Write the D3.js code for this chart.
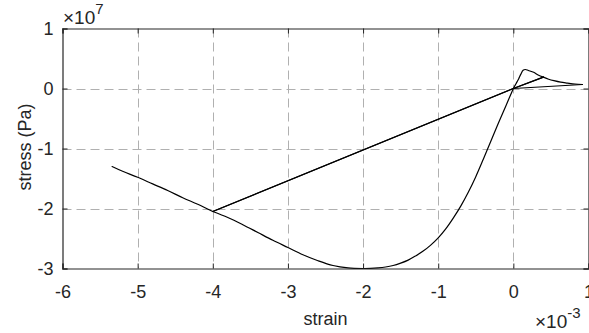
<!DOCTYPE html>
<html>
<head>
<meta charset="utf-8">
<script src="https://cdn.jsdelivr.net/npm/d3@7"></script>
<style>
  html, body { margin: 0; padding: 0; background: #fff; }
  svg { display: block; font-family: "Liberation Sans", Arial, Helvetica, sans-serif; }
</style>
</head>
<body>
<svg id="chart" width="589" height="333"></svg>
<script>
// strain values in units of 1e-3, stress values in units of 1e7 Pa
const strain = [
  0, 0.035, 0.07, 0.10, 0.13, 0.16, 0.20, 0.27, 0.33, 0.40,
  0, 0.40,
  0.47, 0.54, 0.63, 0.72, 0.82, 0.92,
  0,
  -0.1, -0.2, -0.3, -0.4, -0.5, -0.6, -0.7, -0.8, -0.9, -1.0,
  -1.1, -1.2, -1.3, -1.4, -1.5, -1.6, -1.7, -1.8, -1.9, -2.0,
  -2.2, -2.4, -2.6, -2.8, -3.0, -3.2, -3.4, -3.6, -3.8, -4.0,
  0, -4.0,
  -4.2, -4.4, -4.6, -4.8, -5.0, -5.2, -5.34
];
const stress = [
  0, 0.08, 0.16, 0.24, 0.305, 0.317, 0.30, 0.27, 0.225, 0.19,
  0, 0.19,
  0.155, 0.13, 0.105, 0.09, 0.075, 0.067,
  0,
  -0.29, -0.58, -0.88, -1.18, -1.47, -1.73, -1.96, -2.16, -2.34, -2.49,
  -2.61, -2.71, -2.79, -2.86, -2.91, -2.95, -2.975, -2.99, -2.998, -3.0,
  -2.99, -2.95, -2.87, -2.77, -2.65, -2.53, -2.40, -2.27, -2.15, -2.05,
  0, -2.05,
  -1.93, -1.82, -1.70, -1.59, -1.48, -1.38, -1.30
];
const xTicks = [-6, -5, -4, -3, -2, -1, 0, 1];
const yTicks = [-3, -2, -1, 0, 1];
const xLabel = "strain";
const yLabel = "stress (Pa)";

const svg = d3.select("#chart");
const L = 62.5, R = 588.5, T = 28.5, B = 268.5;
const x = d3.scaleLinear().domain([-6, 1]).range([L, R]);
const y = d3.scaleLinear().domain([-3, 1]).range([B, T]);
const axisColor = "#262626";
const fs = 18;
const fmt = d => String(d);

// grid
const g = svg.append("g");
g.selectAll(".gx").data(xTicks.filter(d => d > -6 && d < 1)).enter().append("line")
  .attr("x1", d => Math.round(x(d)) + 0.5).attr("x2", d => Math.round(x(d)) + 0.5)
  .attr("y1", T).attr("y2", B)
  .attr("stroke", "#b0b0b0").attr("stroke-width", 1).attr("stroke-dasharray", "9,5");
g.selectAll(".gy").data(yTicks.filter(d => d > -3 && d < 1)).enter().append("line")
  .attr("y1", d => Math.round(y(d)) + 0.5).attr("y2", d => Math.round(y(d)) + 0.5)
  .attr("x1", L).attr("x2", R)
  .attr("stroke", "#b0b0b0").attr("stroke-width", 1).attr("stroke-dasharray", "9,5");

// data line: split into straight unload/reload segments and smooth envelope pieces
const pts = strain.map((s, i) => [s, stress[i]]);
const isStraight = (a, b) => (a[0] === 0 || b[0] === 0) && Math.max(Math.abs(a[0]), Math.abs(b[0])) >= 0.4;
const straight = [], curves = [];
let cur = [pts[0]];
for (let i = 1; i < pts.length; i++) {
  const a = pts[i - 1], b = pts[i];
  if (isStraight(a, b)) {
    if (cur.length > 1) curves.push(cur);
    straight.push([a, b]);
    cur = [b];
  } else {
    cur.push(b);
  }
}
if (cur.length > 1) curves.push(cur);
const lineLin = d3.line().x(d => x(d[0])).y(d => y(d[1]));
const lineSmooth = d3.line().x(d => x(d[0])).y(d => y(d[1])).curve(d3.curveCatmullRom.alpha(0.5));
const plot = svg.append("g").attr("fill", "none").attr("stroke", "#000").attr("stroke-width", 1.2)
  .attr("stroke-linejoin", "round").attr("stroke-linecap", "round");
plot.selectAll(".s").data(straight).enter().append("path").attr("d", lineLin);
plot.selectAll(".c").data(curves).enter().append("path").attr("d", lineSmooth);

// axes
const xAxis = d3.axisBottom(x).tickValues(xTicks).tickSize(-5).tickPadding(17).tickFormat(fmt);
const yAxis = d3.axisLeft(y).tickValues(yTicks).tickSize(-5).tickPadding(9).tickFormat(fmt);
const xa = svg.append("g").attr("transform", `translate(0,${B})`).call(xAxis);
const ya = svg.append("g").attr("transform", `translate(${L},0)`).call(yAxis);
const xt = svg.append("g").attr("transform", `translate(0,${T})`).call(d3.axisTop(x).tickValues(xTicks).tickSize(-5).tickFormat(""));
const yr = svg.append("g").attr("transform", `translate(${R},0)`).call(d3.axisRight(y).tickValues(yTicks).tickSize(-5).tickFormat(""));
[xa, ya, xt, yr].forEach(a => {
  a.attr("font-size", null).attr("font-family", null);
  a.selectAll("path.domain").attr("stroke", axisColor).attr("stroke-width", 1.2);
  a.selectAll(".tick line").attr("stroke", axisColor);
  a.selectAll("text").attr("fill", "#262626").style("font-size", fs + "px")
    .style("font-family", "'Liberation Sans', Arial, sans-serif");
});

// axis labels
svg.append("text").attr("x", (L + R) / 2).attr("y", 325).attr("text-anchor", "middle")
  .attr("fill", "#262626").style("font-size", fs + "px").text(xLabel);
svg.append("text").attr("transform", `translate(31,147) rotate(-90)`).attr("text-anchor", "middle")
  .attr("fill", "#262626").style("font-size", fs + "px").text(yLabel);

// exponent labels
const e1 = svg.append("text").attr("x", 63).attr("y", 24).attr("fill", "#262626").style("font-size", "19px");
e1.append("tspan").text("×10");
e1.append("tspan").attr("dy", -10).style("font-size", "15px").text("7");
const e2 = svg.append("text").attr("x", 535).attr("y", 328).attr("fill", "#262626").style("font-size", "19px");
e2.append("tspan").text("×10");
e2.append("tspan").attr("dy", -10).style("font-size", "15px").text("-3");
</script>
</body>
</html>
